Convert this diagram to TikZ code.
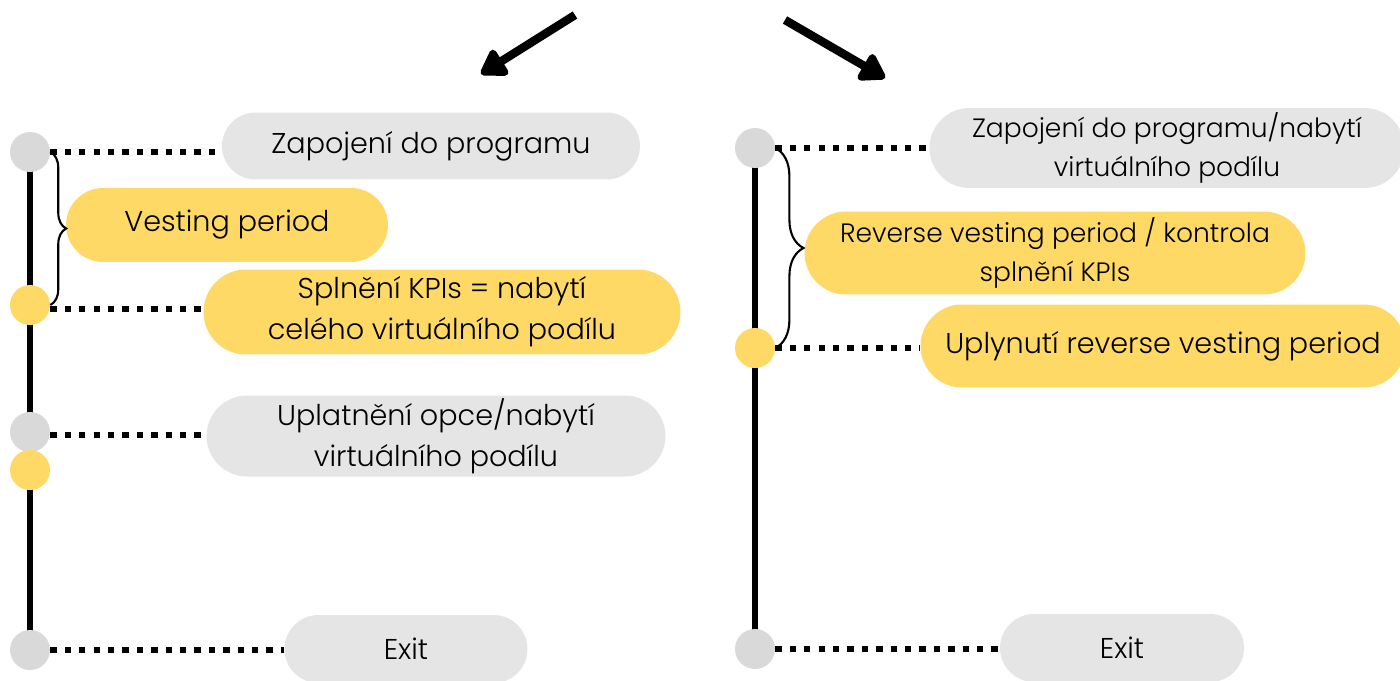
\documentclass[tikz,border=0pt]{standalone}
\usepackage{fontspec}
\setmainfont{Poppins Light}
\usepackage{xcolor}
\usepackage{tikz}
\usetikzlibrary{positioning,arrows.meta,shapes.misc,decorations.pathreplacing,backgrounds}

\definecolor{pillgray}{HTML}{E5E5E5}
\definecolor{dotgray}{HTML}{D9D9D9}
\definecolor{kpiyellow}{HTML}{FFD966}

\begin{document}
\begin{tikzpicture}[
  x=0.02cm, y=-0.02cm,
  font=\fontsize{16.3}{23.5}\selectfont,
  pill/.style={rounded rectangle, fill=#1, align=center, inner sep=0pt},
  small/.style={font=\fontsize{15.1}{22}\selectfont},
  dot/.style={circle, fill=#1, inner sep=0pt, minimum size=0.8cm},
  dotline/.style={line width=3.6pt, dash pattern=on 3.6pt off 4.6pt},
  spine/.style={line width=3.6pt},
  brace/.style={decorate, decoration={brace, amplitude=#1}, line width=1.2pt},
  bigarrow/.style={line width=4.8pt, -{Triangle[length=16pt,width=19pt,round]}}
]
\clip (0,0) rectangle (1400,680);

% arrows on top
\coordinate (al0) at (575,15);
\coordinate (al1) at (481,74);
\coordinate (ar0) at (785,20);
\coordinate (ar1) at (885,78);
\draw[bigarrow] (al0) -- (al1);
\draw[bigarrow] (ar0) -- (ar1);

% left time line
\node[dot=dotgray] (l1) at (30,152) {};
\node[dot=kpiyellow] (l2) at (30,305) {};
\node[dot=dotgray] (l3) at (30,432) {};
\node[dot=kpiyellow] (l4) at (30,470) {};
\node[dot=dotgray] (l5) at (30,650) {};
\begin{pgfonlayer}{background}
  \draw[spine] (l1.center) -- (l5.center);
\end{pgfonlayer}

\node[pill=pillgray, minimum width=8.36cm, minimum height=1.34cm] (zap)
  at (431,146) {Zapojení do programu};
\node[pill=kpiyellow, minimum width=6.44cm, minimum height=1.48cm] (vest)
  at (227,225) {Vesting period};
\node[pill=kpiyellow, minimum width=9.54cm, minimum height=1.7cm] (kpi)
  at (442,312) {Splnění KPIs = nabytí\\celého virtuálního podílu};
\node[pill=pillgray, minimum width=9.18cm, minimum height=1.62cm] (opce)
  at (436,436) {Uplatnění opce/nabytí\\virtuálního podílu};
\node[pill=pillgray, minimum width=4.86cm, minimum height=1.36cm] (lexit)
  at (406,649) {Exit};

\draw[dotline] (l1.east) -- (l1.east -| zap.west);
\draw[dotline] (l2.east) ++(0,4) -- (kpi.west |- 0,309);
\draw[dotline] (l3.east) ++(0,3) -- (opce.west |- 0,435);
\draw[dotline] (l5.east) -- (l5.east -| lexit.west);
\draw[brace=9pt] (l1.east) -- (l2.east);

% right time line
\node[dot=dotgray] (r1) at (755,148) {};
\node[dot=kpiyellow] (r2) at (755,348) {};
\node[dot=dotgray] (r3) at (755,649) {};
\begin{pgfonlayer}{background}
  \draw[spine] (r1.center) -- (r3.center);
\end{pgfonlayer}

\node[pill=pillgray, small, minimum width=9.5cm, minimum height=1.6cm] (zapv)
  at (1167,148) {Zapojení do programu/nabytí\\virtuálního podílu};
\node[pill=kpiyellow, small, minimum width=10.02cm, minimum height=1.66cm] (rev)
  at (1055,253) {Reverse vesting period / kontrola\\splnění KPIs};
\node[pill=kpiyellow, minimum width=9.7cm, minimum height=1.66cm] (upl)
  at (1163,346) {Uplynutí reverse vesting period};
\node[pill=pillgray, minimum width=4.88cm, minimum height=1.36cm] (rexit)
  at (1122,648) {Exit};

\draw[dotline] (r1.east) -- (r1.east -| zapv.west);
\draw[dotline] (r2.east) -- (r2.east -| upl.west);
\draw[dotline] (r3.east) -- (r3.east -| rexit.west);
\draw[brace=16pt] (r1.east) -- (r2.east);
\end{tikzpicture}
\end{document}
